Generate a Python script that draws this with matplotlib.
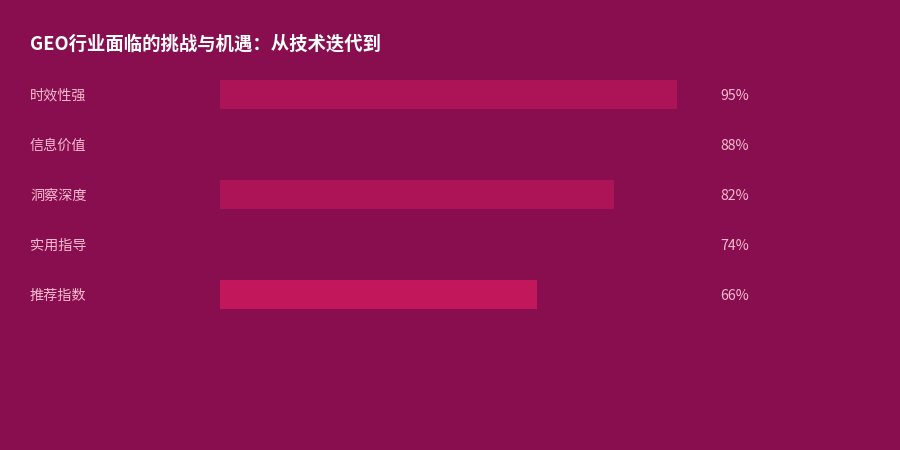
import matplotlib.pyplot as plt
import matplotlib.transforms as mtransforms

plt.rcParams['font.family'] = ['Noto Sans CJK SC', 'DejaVu Sans']

title = 'GEO行业面临的挑战与机遇：从技术迭代到'
categories = ['时效性强', '信息价值', '洞察深度', '实用指导', '推荐指数']
values = [95, 88, 82, 74, 66]
bar_colors = ['#AD1457', '#880E4F', '#AD1457', '#880E4F', '#C2185B']

bg = '#880E4F'
label_color = '#F8BBD0'

fig = plt.figure(figsize=(9, 4.5), dpi=100)
fig.patch.set_facecolor(bg)

# axes: x 220..701 px, y 69.5..319.5 px (from top)
ax = fig.add_axes([220/900, (450-319.5)/450, 481/900, 250/450])
ax.set_facecolor(bg)
ax.set_xlim(0, 100)
ax.set_ylim(len(categories)-0.5, -0.5)
ax.axis('off')

y = list(range(len(categories)))
ax.barh(y, values, height=0.58, color=bar_colors, linewidth=0)

trans = mtransforms.blended_transform_factory(fig.transFigure, ax.transData)
for i, (c, v) in enumerate(zip(categories, values)):
    ax.text(30/900, i + 0.02, c, transform=trans, ha='left', va='center',
            fontsize=10.2, color=label_color)
    ax.text(720/900, i + 0.02, f'{v}%', transform=trans, ha='left', va='center',
            fontsize=10.2, color=label_color)

fig.text(30/900, 1-44/450, title, ha='left', va='center', fontsize=13.2,
         fontweight='bold', color='white')

fig.savefig('out.png', dpi=100, facecolor=bg)
